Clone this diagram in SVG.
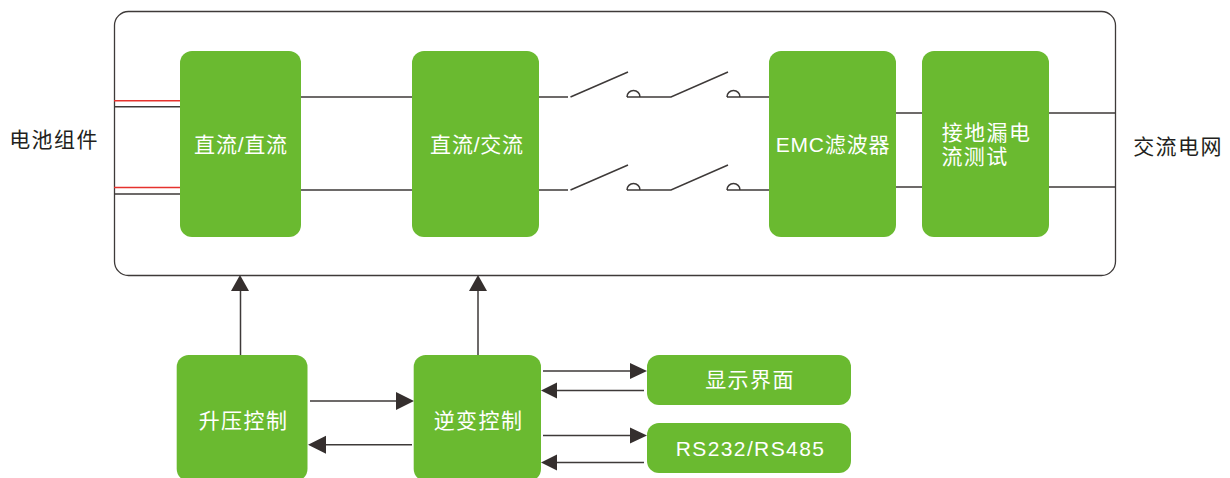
<svg xmlns="http://www.w3.org/2000/svg" width="1230" height="478" viewBox="0 0 1230 478">
<style>
.box{fill:#6aba30}
.w{fill:#fff}
text{font-family:"Liberation Sans","Noto Sans CJK SC",sans-serif;font-size:21px;text-anchor:middle;letter-spacing:1.400px}
.t{letter-spacing:.8px}
.k{fill:#231f20}
.l{fill:none;stroke:#3e3a39;stroke-width:1.5}
.r{fill:none;stroke:#e5322d;stroke-width:1.5}
.h{fill:#352f2e}
</style>
<rect id="frame" x="114.500" y="11.500" width="1001" height="264" rx="14" fill="#fff" stroke="#3e3a39" stroke-width="1.300"/>
<g id="connectors">
<path class="r" d="M114 100.700H180M114 187.600H180"/>
<path class="l" d="M114 106.700H180M114 194H180M301 97H412M301 190H412"/>
<path class="l" d="M539 97H568M570.500 97L628 72M627 97A6.500 6.500 0 0 1 640 97M627 97H671L728 72M727 97A6.500 6.500 0 0 1 740 97M727 97H769"/>
<path class="l" d="M539 190H568M570.500 190L628 165M627 190A6.500 6.500 0 0 1 640 190M627 190H671L728 165M727 190A6.500 6.500 0 0 1 740 190M727 190H769"/>
<path class="l" d="M896 113H922M896 187H922M1049 113H1115M1049 187H1115"/>
<path class="l" d="M240.500 355V290M478 355V290M310 401H398M412 444.700H324M543 371H632M644 390.500H555M543 435.500H632M644 462.500H555"/>
<path class="h" d="M240 275L249 291H231ZM478 275L487 291H469ZM414 401L396 392V410ZM308 444.700L326 435.700V453.700ZM647 371L630 363V379ZM541 390.500L557 382.500V398.500ZM647 435.500L630 427.500V443.500ZM541 462.500L557 454.500V470.500Z"/>
</g>
<g id="n1"><rect class="box" x="180" y="51" width="121" height="186" rx="12"/><text class="w t" x="241" y="151.500">直流/直流</text></g>
<g id="n2"><rect class="box" x="412" y="51" width="127" height="186" rx="12"/><text class="w t" x="477" y="151.500">直流/交流</text></g>
<g id="n3"><rect class="box" x="769" y="51" width="127" height="186" rx="12"/><text class="w t" x="833" y="151.500">EMC滤波器</text></g>
<g id="n4"><rect class="box" x="922" y="51" width="127" height="186" rx="12"/><text class="w" x="986.500" y="140">接地漏电</text><text class="w" x="975" y="164">流测试</text></g>
<g id="n5"><rect class="box" x="176.700" y="355" width="130.800" height="126" rx="12"/><text class="w" x="243.500" y="427.500">升压控制</text></g>
<g id="n6"><rect class="box" x="413.700" y="355" width="127.300" height="126" rx="12"/><text class="w" x="478.500" y="427.500">逆变控制</text></g>
<g id="n7"><rect class="box" x="647" y="355" width="204" height="50" rx="12"/><text class="w" x="750" y="387">显示界面</text></g>
<g id="n8"><rect class="box" x="647" y="423" width="204" height="50" rx="12"/><text class="w" x="750.500" y="455.500">RS232/RS485</text></g>
<g id="labels"><text class="k" x="54" y="146.500">电池组件</text><text class="k" x="1178" y="153.500">交流电网</text></g>
</svg>
